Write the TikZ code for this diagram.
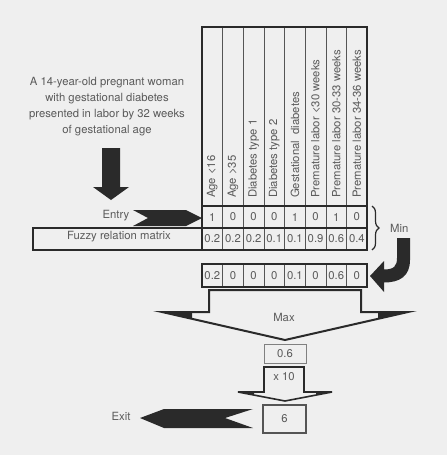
\documentclass[tikz,border=0pt]{standalone}
\usepackage{fontspec}
\setmainfont{TeX Gyre Heros}
\usetikzlibrary{decorations.pathreplacing}
\definecolor{bg}{HTML}{EFEFEF}
\definecolor{ink}{HTML}{2A2A2A}
\definecolor{txt}{HTML}{5A5A5A}
\definecolor{grid}{HTML}{555555}
\begin{document}
\begin{tikzpicture}[x=1pt,y=-1pt,
 lbl/.style={text=txt,font=\fontsize{11.3}{13}\selectfont,inner sep=0pt},
 hdr/.style={lbl,rotate=90,anchor=west},
 blk/.style={fill=ink,draw=none},
 hollow/.style={draw=ink,line width=2pt,line join=miter,fill=bg},
 frame/.style={draw=ink,line width=1.4pt},
 gridline/.style={draw=grid,line width=0.8pt}]
\fill[bg] (0,0) rectangle (447,455);
\useasboundingbox (0,0) rectangle (447,455);

% intro text
\node[lbl,align=center,font=\fontsize{11.3}{16}\selectfont] (intro) at (107,107)
 {A 14-year-old pregnant woman\\with gestational diabetes\\presented in labor by 32 weeks\\of gestational age};
% down arrow
\fill[blk] (102,148) -- (120,148) -- (120,187) -- (129,187) -- (111,200) -- (93,187) -- (102,187) -- cycle;

% table grid
\foreach \i in {1,...,7} \draw[gridline] ({202+20.65*\i},27) -- ({202+20.65*\i},250);
\draw[frame] (202,206) -- (367,206);
\draw[frame] (202,228) -- (367,228);
\draw[frame] (202,27) rectangle (367,250);
\draw[frame] (33,228) rectangle (202,250);
\node[lbl] (frm) at (119,237) {Fuzzy relation matrix};

\foreach \t [count=\i from 0] in {Age <16,Age >35,Diabetes type 1,Diabetes type 2,Gestational\ \ diabetes,Premature labor <30 weeks,Premature labor 30-33 weeks,Premature labor 34-36 weeks}
  \node[hdr] (h\i) at ({202+20.65*(\i+0.5)},198) {\t};
\foreach \v [count=\i from 0] in {1,0,0,0,1,0,1,0}
  \node[lbl] (e\i) at ({202+20.65*(\i+0.5)},217) {\v};
\foreach \v [count=\i from 0] in {0.2,0.2,0.2,0.1,0.1,0.9,0.6,0.4}
  \node[lbl] (f\i) at ({202+20.65*(\i+0.5)},239) {\v};

% entry
\node[lbl] (entry) at (116,216) {Entry};
\fill[blk] (133,210) -- (186,210) -- (202,218) -- (186,226) -- (133,226) -- (148,218) -- cycle;

% brace + min
\draw[ink,line width=1.2pt,decorate,decoration={brace,amplitude=7pt}] (372,206) -- (372,250);
\node[lbl,anchor=west] (min) at (390,228) {Min};
\fill[blk] (410,238) -- (410,260) .. controls (410,276) and (400,282.5) .. (384,282.5)
  -- (384,292) -- (370,276) -- (384,261) -- (384,269.5)
  .. controls (394,269.5) and (397,266) .. (397,258) -- (397,238) -- cycle;

% result row
\foreach \i in {1,...,7} \draw[gridline] ({202+20.65*\i},264) -- ({202+20.65*\i},287);
\draw[frame] (202,264) rectangle (367,287);
\foreach \v [count=\i from 0] in {0.2,0,0,0,0.1,0,0.6,0}
  \node[lbl] (r\i) at ({202+20.65*(\i+0.5)},275.5) {\v};

% max arrow
\draw[hollow] (209,290) -- (361,290) -- (361,312) -- (408,312) -- (285,340) -- (162,312) -- (209,312) -- cycle;
\fill[blk] (162,312) -- (192,312) -- (192,318.8) -- cycle;
\fill[blk] (408,312) -- (378,312) -- (378,318.8) -- cycle;
\node[lbl] (max) at (284,317) {Max};

% 0.6 box
\draw[draw=gray,line width=0.8pt] (264,344) rectangle (306,363);
\node[lbl] (v06) at (285,353.5) {0.6};

% x10 arrow
\draw[hollow,line width=1.6pt] (264,367) -- (304,367) -- (304,392) -- (332,392) -- (285,401) -- (238,392) -- (264,392) -- cycle;
\fill[blk] (238,392) -- (254,392) -- (254,395) -- cycle;
\fill[blk] (332,392) -- (316,392) -- (316,395) -- cycle;
\node[lbl] (x10) at (284,377) {x 10};

% result 6
\draw[draw=grid,line width=1.3pt] (263,405) rectangle (306,433);
\node[lbl] (six) at (284.5,419) {6};

% exit
\fill[blk] (140,418) -- (164,409) -- (253,409) -- (225,418) -- (253,428) -- (164,428) -- cycle;
\node[lbl] (exit) at (121,416) {Exit};
\end{tikzpicture}
\end{document}
